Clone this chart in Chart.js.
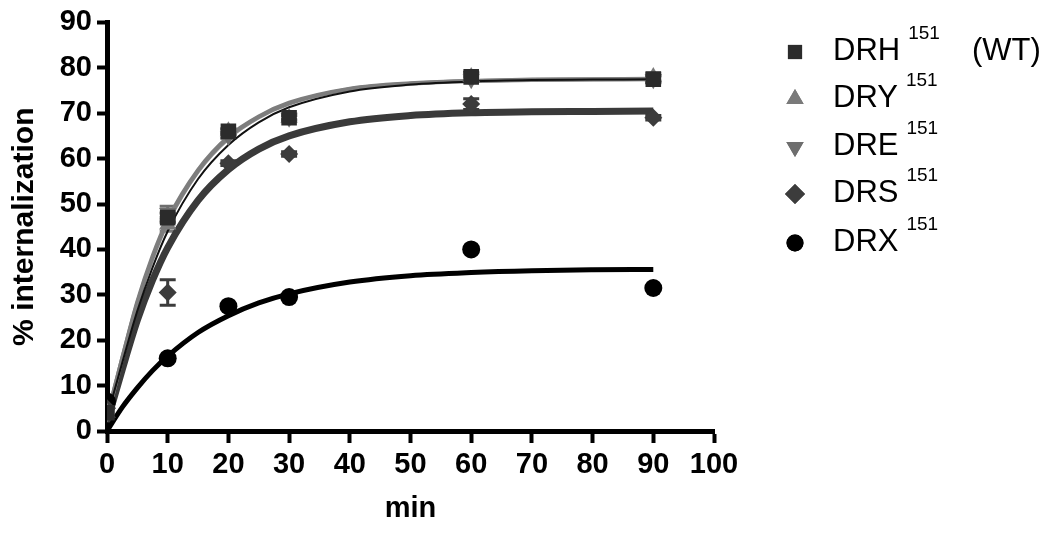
<!DOCTYPE html>
<html>
<head>
<meta charset="utf-8">
<script src="https://cdn.jsdelivr.net/npm/chart.js@4.4.1/dist/chart.umd.min.js"></script>
<style>
  html, body { margin: 0; padding: 0; background: #fff; }
  #wrap { width: 1050px; height: 534px; position: relative; }
</style>
</head>
<body>
<div id="wrap"><canvas id="myChart" width="1050" height="534"></canvas></div>
<script>
// sampling times (min)
var times = [0, 10, 20, 30, 60, 90];

// measured % internalization
var drh = [4, 47, 66, 69, 78, 77.5];
var dry = [4, 45.5, 66, 69, 78, 78];
var dre = [4, 48, 65, 69, 77.5, 77.5];
var drs = [5, 30.5, 59, 61, 72, 69];
var drx = [6.5, 16, 27.5, 29.5, 40, 31.5];

// error bars (+/-)
var drhErr = [0, 1, 0.5, 0.5, 1, 0.8];
var dryErr = [0, 1.5, 0.5, 0.5, 0.8, 0.8];
var dreErr = [0, 1.5, 0.5, 0.5, 0.5, 0.5];
var drsErr = [0, 2.8, 0.5, 0.5, 1.2, 0.5];
var drxErr = [0, 0, 0, 0, 0, 0];

// fitted curves
var fitTimes = [0, 2.5, 5, 7.5, 10, 15, 20, 25, 30, 40, 50, 60, 70, 80, 90];
var drhFit = [3, 15, 26.5, 36, 44, 55.5, 63, 68, 71.3, 74.8, 76.3, 77, 77.3, 77.4, 77.5];
var dryFit = [3, 16, 28.5, 38.5, 46.5, 57.5, 64.8, 69.3, 72.3, 75.4, 76.6, 77.1, 77.4, 77.5, 77.6];
var dreFit = [3, 16, 28.2, 38, 46, 57.2, 64.5, 69.1, 72.1, 75.3, 76.5, 77.1, 77.3, 77.4, 77.5];
var drsFit = [2, 13.5, 24.4, 33.2, 40.4, 50.8, 57.6, 62.1, 65, 68.1, 69.5, 70.1, 70.3, 70.4, 70.5];
var drxFit = [0, 5.2, 9.5, 13.3, 16.5, 21.7, 25.4, 28.2, 30.2, 32.8, 34.2, 34.9, 35.3, 35.5, 35.6];

var xTicks = [0, 10, 20, 30, 40, 50, 60, 70, 80, 90, 100];
var yTicks = [0, 10, 20, 30, 40, 50, 60, 70, 80, 90];

var names = ['DRH', 'DRY', 'DRE', 'DRS', 'DRX'];
var styles = ['rect', 'triangle', 'triangle', 'rectRot', 'circle'];
var rotations = [0, 0, 180, 0, 0];
var colors = ['#2b2b2b', '#7a7a7a', '#6e6e6e', '#3c3c3c', '#000000'];

function pts(xs, ys) {
    return xs.map(function (x, i) { return {x: x, y: ys[i]}; });
}

var pointSets = [drh, dry, dre, drs, drx];
var errSets = [drhErr, dryErr, dreErr, drsErr, drxErr];
var fitSets = [drhFit, dryFit, dreFit, drsFit, drxFit];
var radii = [11, 10, 10, 9, 9];
var fitWidths = [2, 4, 4, 7, 5];
var fitColors = ['#111111', '#7d7d7d', '#858585', '#3a3a3a', '#000000'];

var datasets = [];
fitSets.forEach(function (f, i) {
    datasets.push({
        label: names[i] + ' fit',
        data: pts(fitTimes, f),
        showLine: true,
        borderColor: fitColors[i],
        borderWidth: fitWidths[i],
        pointRadius: 0,
        cubicInterpolationMode: 'monotone',
        order: 2 + (i === 0 ? -0.5 : 0) + (i === 3 ? 0.5 : 0)
    });
});
pointSets.forEach(function (p, i) {
    datasets.push({
        label: names[i],
        data: pts(times, p),
        showLine: false,
        pointStyle: styles[i],
        rotation: rotations[i],
        pointRadius: radii[i],
        backgroundColor: colors[i],
        borderColor: colors[i],
        borderWidth: 0,
        order: 1
    });
});

// error bars drawn through the scales
var errorBars = {
    id: 'errorBars',
    beforeDatasetsDraw: function (chart) {
        var ctx = chart.ctx, xs = chart.scales.x, ys = chart.scales.y;
        ctx.save();
        errSets.forEach(function (errs, i) {
            ctx.strokeStyle = colors[i];
            ctx.lineWidth = 3;
            errs.forEach(function (e, j) {
                if (!e) return;
                var px = xs.getPixelForValue(times[j]);
                var hi = ys.getPixelForValue(pointSets[i][j] + e);
                var lo = ys.getPixelForValue(pointSets[i][j] - e);
                ctx.beginPath();
                ctx.moveTo(px, hi); ctx.lineTo(px, lo);
                ctx.moveTo(px - 8, hi); ctx.lineTo(px + 8, hi);
                ctx.moveTo(px - 8, lo); ctx.lineTo(px + 8, lo);
                ctx.stroke();
            });
        });
        ctx.restore();
    }
};

// legend on the right with superscripts
var sideLegend = {
    id: 'sideLegend',
    afterDraw: function (chart) {
        var ctx = chart.ctx;
        ctx.save();
        ctx.textBaseline = 'alphabetic';
        ctx.textAlign = 'left';
        var rows = [60, 107, 155, 202, 251];
        names.forEach(function (n, i) {
            var y = rows[i];
            ctx.fillStyle = colors[i];
            Chart.helpers.drawPoint(ctx, {
                pointStyle: styles[i], rotation: rotations[i],
                radius: styles[i] === 'circle' ? 8.5 : 10, borderWidth: 0
            }, 795, y - 8);
            ctx.fill();
            ctx.fillStyle = '#000';
            ctx.font = '31px "Liberation Sans", Arial, sans-serif';
            ctx.fillText(n, 833, y);
            var w = ctx.measureText(n).width;
            ctx.font = '19px "Liberation Sans", Arial, sans-serif';
            ctx.fillText('151', 833 + w + 8, y - 21);
            if (i === 0) {
                ctx.font = '31px "Liberation Sans", Arial, sans-serif';
                ctx.fillText('(WT)', 972, y);
            }
        });
        ctx.restore();
    }
};

var tickFont = {family: '"Liberation Sans", Arial, sans-serif', size: 29, weight: 'bold'};

var myChart = new Chart(document.getElementById('myChart').getContext('2d'), {
    type: 'scatter',
    data: {datasets: datasets},
    options: {
        responsive: false,
        animation: false,
        layout: {padding: {left: 0, top: 21, right: 336, bottom: 0}},
        plugins: {legend: {display: false}, tooltip: {enabled: false}},
        scales: {
            x: {
                type: 'linear', min: 0, max: 100,
                afterBuildTicks: function (s) { s.ticks = xTicks.map(function (v) { return {value: v}; }); },
                afterFit: function (s) { s.height = 103; },
                ticks: {color: '#000', font: tickFont, padding: 5, maxRotation: 0, autoSkip: false},
                grid: {drawOnChartArea: false, drawTicks: true, tickLength: 12, tickWidth: 4, tickColor: '#000'},
                border: {display: true, width: 5, color: '#000'},
                title: {display: true, text: 'min', color: '#000', font: tickFont, padding: {top: 0, bottom: 8}}
            },
            y: {
                type: 'linear', min: 0, max: 90,
                afterBuildTicks: function (s) { s.ticks = yTicks.map(function (v) { return {value: v}; }); },
                afterFit: function (s) { s.width = 107; },
                ticks: {color: '#000', font: tickFont, padding: 5, autoSkip: false},
                grid: {drawOnChartArea: false, drawTicks: true, tickLength: 10, tickWidth: 4, tickColor: '#000'},
                border: {display: true, width: 5, color: '#000'},
                title: {display: true, text: '% internalization', color: '#000',
                    font: {family: '"Liberation Sans", Arial, sans-serif', size: 30, weight: 'bold'},
                    padding: {top: 7, bottom: 0}}
            }
        }
    },
    plugins: [errorBars, sideLegend]
});
</script>
</body>
</html>
